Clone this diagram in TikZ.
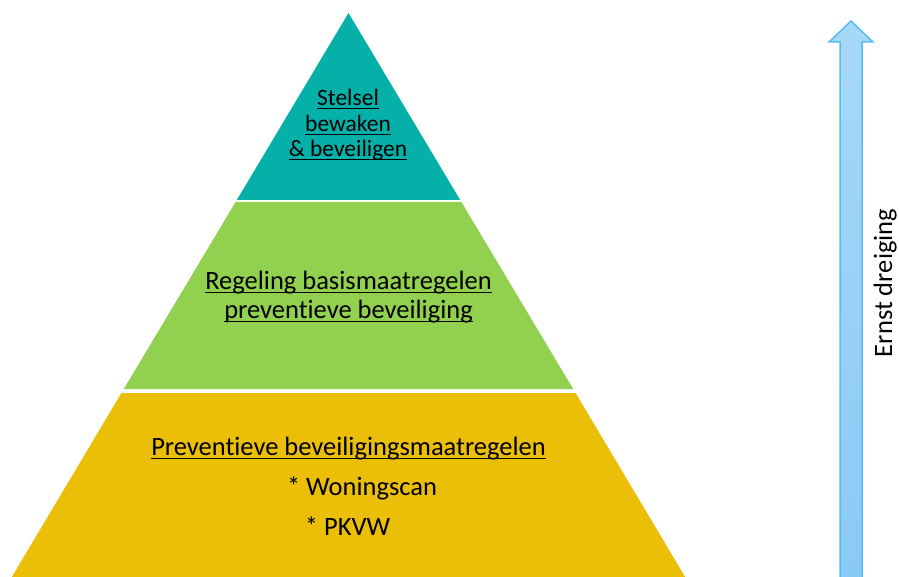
\documentclass[tikz,border=0pt]{standalone}
\usepackage{fontspec}
\setmainfont[Ligatures=NoCommon]{Carlito}
\definecolor{tealtop}{HTML}{05B0A8}
\definecolor{greenmid}{HTML}{92D050}
\definecolor{goldbot}{HTML}{EBBF08}
\definecolor{arrowtop}{HTML}{A8D8F8}
\definecolor{arrowbot}{HTML}{8ACAF6}
\definecolor{arrowline}{HTML}{55BEF0}
\newcommand\myul[2]{\leavevmode\setbox0\hbox{#2}\rlap{\rule[-#1]{\wd0}{1.4pt}}\box0}
\tikzset{
  small/.style={inner sep=0pt, anchor=base, font=\fontsize{23.5}{26}\selectfont},
  big/.style={inner sep=0pt, anchor=base, font=\fontsize{26.5}{29}\selectfont},
  side/.style={inner sep=0pt, anchor=base, rotate=90, font=\fontsize{26.5}{29}\selectfont},
  bigarrow/.style={draw=arrowline, line width=1.5pt, top color=arrowtop, bottom color=arrowbot, line join=miter}
}
\begin{document}
\begin{tikzpicture}[x=1pt,y=-1pt]
\useasboundingbox (0,0) rectangle (899,577);
% pyramid layers
\coordinate (apex) at (348.5,13);
\fill[tealtop] (apex) -- (460.2,200) -- (236.8,200) -- cycle;
\fill[greenmid] (235.6,202) -- (461.4,202) -- (573.2,389) -- (123.8,389) -- cycle;
\fill[goldbot] (121.4,393) -- (575.6,393) -- (685.5,577.5) -- (11.5,577.5) -- cycle;
% texts
\node[small] (t1) at (348,106) {\myul{3.5pt}{Stelsel}};
\node[small] (t2) at (348,132) {\myul{3.5pt}{bewaken}};
\node[small] (t3) at (348,157) {\myul{3.5pt}{\& beveiligen}};
\node[big] (m1) at (348.5,289) {\myul{4pt}{Regeling basismaatregelen}};
\node[big] (m2) at (348.5,318) {\myul{4pt}{preventieve beveiliging}};
\node[big] (b1) at (348.5,455) {\myul{4pt}{Preventieve beveiligingsmaatregelen}};
\node[big] (b2) at (362,495) {* Woningscan};
\node[big] (b3) at (347.5,535) {* PKVW};
% arrow
\draw[bigarrow] (851,21) -- (873,42) -- (862,42) -- (862,579) -- (840,579) -- (840,42) -- (829,42) -- cycle;
\node[side] (lbl) at (892,283) {Ernst dreiging};
\end{tikzpicture}
\end{document}
